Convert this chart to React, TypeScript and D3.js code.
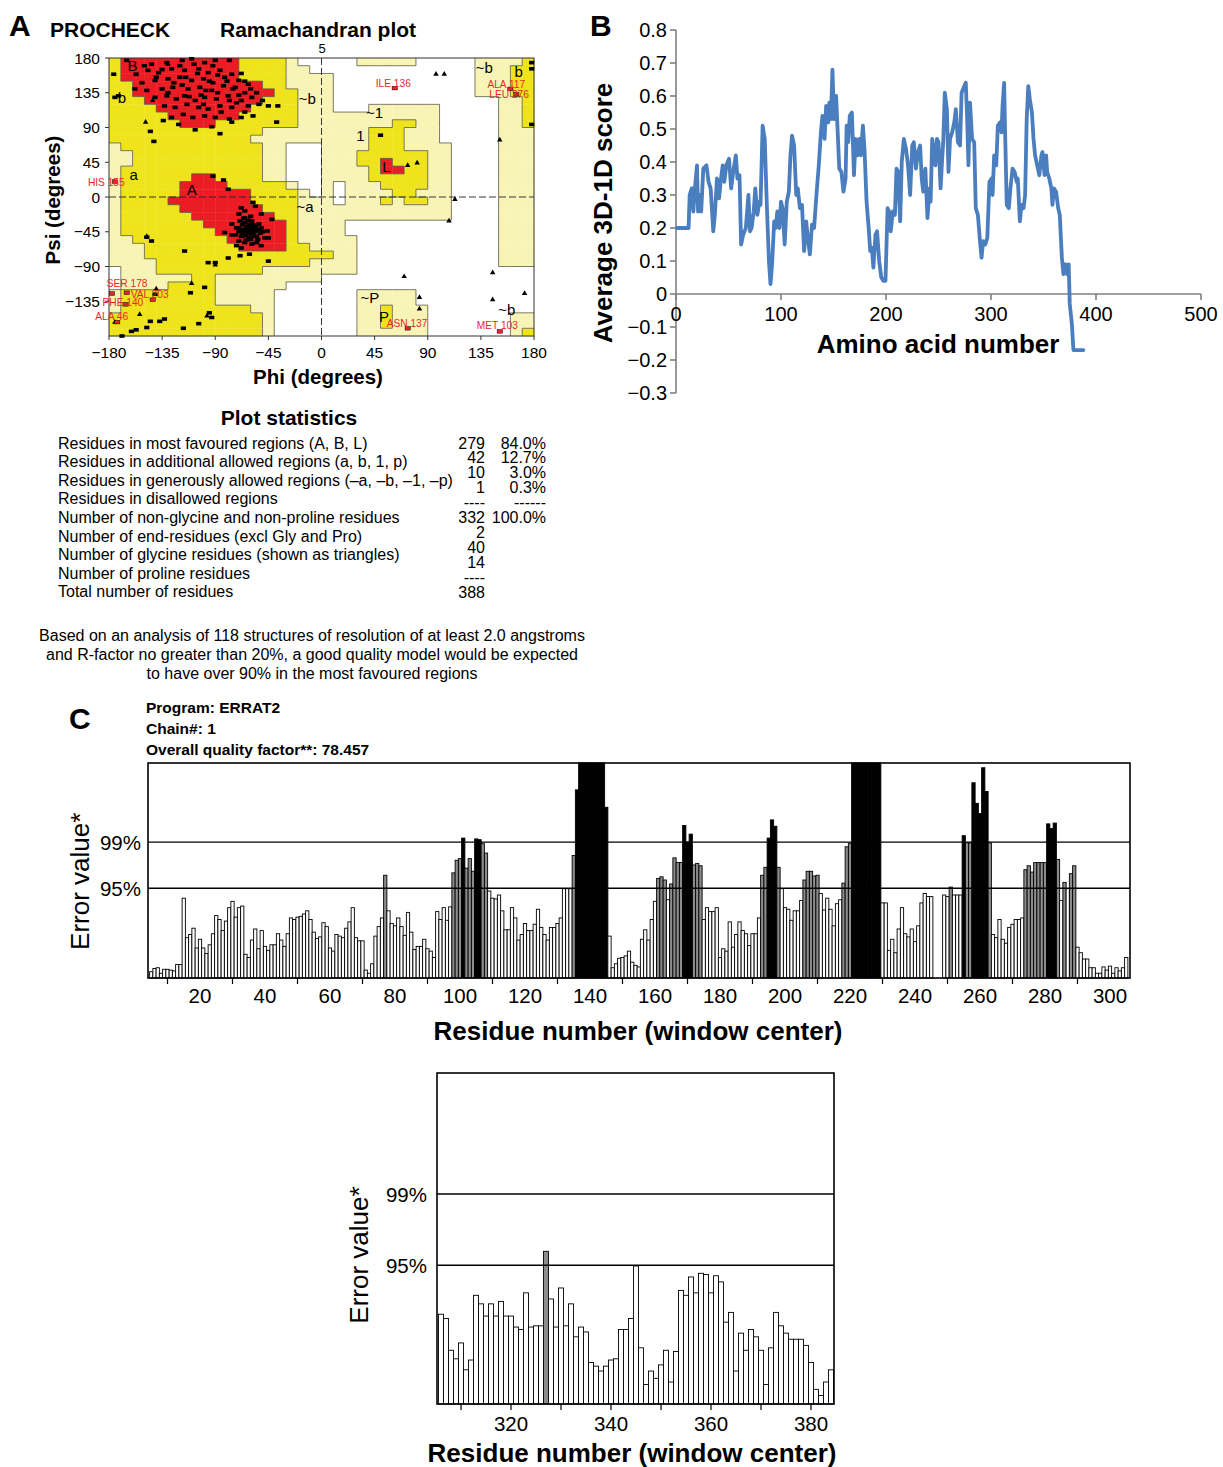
import React from 'react';
import * as d3 from 'd3';

const FONT = '"Liberation Sans", Arial, Helvetica, sans-serif';

// ---------------- Panel A: Ramachandran data ----------------
// 36 rows (psi 180 -> -180, 10 deg steps), 36 cols (phi -180 -> 180). RLE: R core, Y allowed, G generous, W disallowed
const ramaGrid: string[] = [
  'Y R10 Y4 G W2 | W3 G5 W5 G4 Y',
  'Y R10 Y4 G2 W | W13 G3 Y2',
  'Y R10 Y4 G3 | G W12 G3 Y2',
  'Y2 R11 Y2 G3 | G W12 G3 Y2',
  'Y2 R12 Y2 G2 | G W12 G3 Y2',
  'Y3 R10 Y3 G2 | G W14 G2 Y',
  'Y4 R8 Y4 G2 | G W3 G6 W5 G2 Y',
  'Y5 R6 Y5 G2 | G10 W5 G2 Y',
  'Y6 R3 Y7 G2 | G6 Y2 G2 W5 G2 Y',
  'Y13 G5 | G4 Y3 G3 W5 G3',
  'Y12 G6 | G4 Y3 G3 W5 G3',
  'G Y12 G2 W3 | G4 Y3 G4 W4 G3',
  'G2 Y11 G2 W3 | G3 Y6 G2 W4 G3',
  'G2 Y11 G2 W3 | G3 Y2 R Y3 G2 W4 G3',
  'G Y12 G2 W3 | G4 Y R2 Y2 G2 W4 G3',
  'G Y6 R2 Y4 G2 W3 | G4 Y5 G2 W4 G3',
  'G Y5 R4 Y5 G W2 | G W G3 Y4 G2 W4 G3',
  'G Y5 R6 Y4 G W | G W G4 Y2 G3 W4 G3',
  'G Y4 R7 Y4 G2 | G W G3 Y G Y2 G2 W4 G3',
  'G Y5 R7 Y3 G2 | G11 W4 G3',
  'G Y6 R7 Y2 G2 | G11 W4 G3',
  'G Y7 R7 Y G2 | G2 W13 G3',
  'G Y8 R6 Y G2 | G2 W13 G3',
  'G2 Y8 R5 Y G2 | G3 W12 G3',
  'G3 Y8 R4 Y2 G | G3 W12 G3',
  'G3 Y15 | Y G2 W12 G3',
  'G4 Y13 G | G3 W12 G3',
  'W G3 Y9 G5 | G3 W15',
  'W G6 Y2 G9 | W18',
  'W G4 Y4 G6 W3 | W18',
  'G Y8 G5 W4 | W3 G5 W10',
  'G Y8 G5 W4 | W3 G5 W10',
  'G Y11 G2 W4 | W3 G2 Y G3 W9',
  'Y13 G W4 | W3 G2 Y G3 W7 G2',
  'Y13 G W4 | W3 G2 Y G3 W7 G2',
  'Y13 G W4 | W3 G6 W7 G Y',
];

const residuePoints: [number, number][] = [
  [-165,177],[-144,172],[-131,174],[-118,177],[-110,179],[-99,174],[-90,177],[-78,177],
  [-157,159],[-147,164],[-138,161],[-127,166],[-116,164],[-104,166],[-96,161],[-86,164],[-76,159],
  [-152,148],[-141,151],[-130,153],[-120,155],[-110,151],[-100,153],[-92,148],[-82,155],[-70,151],[-62,146],
  [-158,140],[-148,138],[-135,140],[-126,142],[-113,140],[-103,142],[-93,138],[-83,144],[-73,142],[-65,135],
  [-141,129],[-131,131],[-123,127],[-116,131],[-107,125],[-99,129],[-89,127],[-79,131],[-68,125],[-59,129],
  [-53,120],[-45,118],[-37,118],[-133,118],[-124,116],[-114,120],[-104,116],[-96,114],[-86,118],[-76,116],
  [-65,110],[-58,105],[-127,103],[-117,107],[-109,103],[-99,105],[-90,103],[-78,101],[-68,103],
  [-134,99],[-121,94],[-107,87],[-93,91],[-86,82],[-76,97],[-38,97],[-145,85],[-142,72],[-172,131],
  [-176,159],[-175,129],[-150,170],[-120,170],[-105,160],[-95,150],[-88,135],[-75,140],[-68,160],
  [-140,155],[-125,148],[-112,130],[-100,120],[-85,110],[-72,122],[-60,140],[-130,135],[-118,145],
  [-108,172],[-92,170],[-80,150],[-65,150],[-55,135],[-50,125],[-78,125],[-135,165],[-98,138],
  [-115,155],[-102,132],[-88,158],[-70,132],[-62,118],
  [-70,-22],[-65,-27],[-59,-31],[-53,-35],[-76,-35],[-70,-40],[-65,-42],[-58,-44],[-51,-40],[-73,-49],
  [-68,-51],[-62,-53],[-55,-51],[-48,-53],[-65,-59],[-59,-61],[-70,-57],[-58,-7],[-65,-18],[-51,-22],
  [-68,-14],[-76,-49],[-72,-63],[-56,-12],[-42,-29],[-46,-44],[-45,-53],[-82,-46],[-61,-35],[-63,-46],
  [-69,-31],[-55,-59],[-51,-63],[-68,-66],[-61,-74],[-45,-83],[-69,-76],[-79,-79],[-90,-85],[-96,-85],
  [-116,-70],[-144,-57],[-148,-52],[-92,27],[-79,10],[-83,22],
  [-60,-40],[-63,-38],[-66,-45],[-58,-48],[-61,-43],[-64,-50],[-57,-40],[-67,-36],[-62,-30],[-55,-44],
  [-70,-45],[-60,-55],[-52,-47],[-65,-33],[-58,-36],[-68,-42],[-62,-47],[-56,-38],[-72,-40],[-64,-56],
  [-54,-55],[-60,-25],[-66,-28],[-50,-45],[-59,-51],[-63,-41],[-57,-45],[-61,-37],[-53,-42],[-67,-48],
  [-111,-124],[-99,-117],[-95,-150],[-93,-156],[-145,-161],[-161,-174],[-157,-172],[-148,-169],
  [-137,-161],[-133,-158],[-117,-170],[-104,-164],[-169,-180],[-141,-126],
  [50,80],[178,94],[178,174],[178,166],
];

const glycinePoints: [number, number][] = [
  [-149,97],[-130,172],[-143,125],[97,159],[104,159],[73,41],[81,44],[151,74],[113,-3],[108,-31],
  [70,-103],[145,-98],[172,-125],[83,-130],[145,-133],[83,-145],[-148,-51],[-90,-88],[-110,-112],
  [-140,-119],[-154,-152],[-175,-162],[-97,-154],
];

const flaggedNames = ['HIS 155','ILE 136','ALA 117','LEU 276','SER 178','VAL 203','PHE 140','ALA 46','ASN 137','MET 103'];
const flaggedPhi = [-175, 62, 160, 165, -165, -143, -166, -173, 73, 151];
const flaggedPsi = [20, 141, 140, 133, -124, -133, -139, -162, -170, -174];
const extraDisallowed: [number, number][] = [[-177.5,-125]];
// label offsets (px) relative to the point
const flaggedLabelOffset: [number, number][] = [
  [-27,4],[-19,-1],[-23,-1],[-27,4],[-20,-6],[-22,-2],[-23,2],[-22,-2],[-21,-1],[-23,-2],
];

const regionLabelText = ['B','b','~b','a','A','~a','~1','1','L','~P','P','~b','b','~b'];
const regionLabelPhi = [-160,-169,-12,-159,-110,-14,45,33,55,41,53,138,167,157];
const regionLabelPsi = [170,129,128,29,10,-12,110,79,40,-130,-155,168,163,-146];

const psiTicks = [180,135,90,45,0,-45,-90,-135];
const phiTicks = [-180,-135,-90,-45,0,45,90,135,180];

// ---------------- Plot statistics ----------------
const statLabels = [
  'Residues in most favoured regions (A, B, L)',
  'Residues in additional allowed regions (a, b, 1, p)',
  'Residues in generously allowed regions (\u2013a, \u2013b, \u20131, \u2013p)',
  'Residues in disallowed regions',
  'Number of non-glycine and non-proline residues',
  'Number of end-residues (excl Gly and Pro)',
  'Number of glycine residues (shown as triangles)',
  'Number of proline residues',
  'Total number of residues',
];
const statCounts = ['279','42','10','1','----','332','2','40','14','----','388'];
const statPercents = ['84.0%','12.7%','3.0%','0.3%','------','100.0%'];
const noteLines = [
  'Based on an analysis of 118 structures of resolution of at least 2.0 angstroms',
  'and R-factor no greater than 20%, a good quality model would be expected',
  'to have over 90% in the most favoured regions',
];

// ---------------- Panel B: Verify3D profile ----------------
const profileResidue = [
  1,12,13,15,16.5,18,20,21,23,24,26,29,31,33,35.5,37,39,41,42.5,44.5,46,48,50.5,52.5,54.5,57,58.5,60.5,62,64,66.5,69,70.5,72,74,75.5,77.5,79.5,80.5,82.5,84.5,86.5,88.5,90,91.5,93.5,95,96.5,98.5,100,101.5,103.5,105.5,107.5,109,110.5,112.5,114.5,116,118,120,122,124,125.5,127.5,129.5,131.5,134,136,138,139.5,141.5,143,145,146,147.5,149,150.5,152.5,154,155.5,157.5,159.5,161.5,162.5,164,165.5,167.5,169.5,171,172.5,174.5,176,178,179.5,181.5,183.5,185,186.5,188,190,191.5,193.5,195.5,
  197.5,199.5,201.5,203,204.5,206.5,208.5,210,211.5,213.5,215,217,219,221,223,225,226.5,228.5,230.5,232.5,234,235.5,237.5,239.5,241.5,242.5,244,245.5,247,248.5,250,252,253.5,254.5,256,258,259.5,261,263,265,266.5,268.5,270.5,272,274.5,276,277.5,278.5,280,282,284,285.5,287.5,289.5,291,292.5,294.5,296.5,298.5,300.5,301.5,303,305,306.5,308.5,310,311,312.5,313.5,315,317,318.5,320.5,322.5,324.5,325.5,327.5,329,331,332.5,334,335.5,337,339,340.5,342,344,346,348,349,351,352.5,353.5,355.5,357.5,358.5,360,362,364,365.5,367.5,369,371,372.5,374,375,377,378.5,388,
];
const profileScore = [
  0.20,0.20,0.30,0.32,0.25,0.32,0.39,0.25,0.30,0.25,0.38,0.39,0.34,0.32,0.19,0.24,0.35,0.29,0.34,0.39,0.34,0.39,0.41,0.32,0.37,0.42,0.35,0.36,0.15,0.18,0.20,0.30,0.19,0.20,0.25,0.32,0.24,0.28,0.27,0.51,0.47,0.27,0.10,0.03,0.09,0.22,0.20,0.25,0.20,0.28,0.26,0.15,0.28,0.31,0.42,0.48,0.45,0.30,0.32,0.26,0.27,0.13,0.22,0.17,0.12,0.21,0.20,0.31,0.39,0.49,0.54,0.47,0.57,0.52,0.58,0.53,0.68,0.53,0.60,0.49,0.38,0.37,0.31,0.35,0.51,0.46,0.54,0.55,0.36,0.47,0.42,0.47,0.42,0.51,0.44,0.28,0.20,0.13,0.14,0.08,0.18,0.19,0.10,0.05,
  0.04,0.04,0.26,0.25,0.19,0.25,0.24,0.38,0.37,0.22,0.40,0.47,0.44,0.39,0.30,0.45,0.46,0.38,0.43,0.45,0.35,0.31,0.38,0.23,0.32,0.28,0.47,0.43,0.39,0.47,0.46,0.32,0.41,0.46,0.61,0.56,0.37,0.47,0.49,0.52,0.56,0.46,0.45,0.61,0.63,0.64,0.51,0.39,0.58,0.47,0.46,0.26,0.24,0.16,0.11,0.16,0.15,0.17,0.34,0.35,0.30,0.42,0.39,0.51,0.52,0.49,0.57,0.64,0.48,0.27,0.26,0.32,0.38,0.37,0.34,0.35,0.22,0.27,0.26,0.30,0.53,0.63,0.59,0.55,0.47,0.42,0.39,0.36,0.42,0.43,0.36,0.42,0.37,0.35,0.32,0.27,0.32,0.31,0.26,0.24,0.11,0.06,0.09,0.06,0.09,-0.03,-0.09,-0.17,-0.17,
];
const scoreTicks = [0.8,0.7,0.6,0.5,0.4,0.3,0.2,0.1,0,-0.1,-0.2,-0.3];
const aminoTicks = [0,100,200,300,400,500];

// ---------------- Panel C: ERRAT2 ----------------
const erratTopFirstResidue = 5;
const erratTopValues = [
  0.8,1.2,1.3,0.6,1.1,1.1,1.0,0.9,1.7,1.7,
  10.1,5.1,5.5,6.3,3.8,4.9,3.8,3.1,4.2,5.6,
  7.9,7.4,6.0,7.2,8.9,9.7,7.7,8.9,9.1,3.0,
  2.6,4.8,6.2,3.7,6.0,4.0,3.5,4.2,4.2,5.6,
  4.8,4.0,5.6,7.6,7.4,7.7,7.8,8.1,8.5,7.4,
  5.8,5.0,5.2,7.0,6.5,3.8,3.4,5.5,5.3,5.1,
  6.3,7.1,8.9,5.1,4.7,4.7,1.0,0.6,1.8,5.3,
  6.5,7.6,13.0,8.5,6.9,6.6,7.6,6.5,5.4,8.3,
  5.8,3.6,4.0,4.0,4.9,3.7,3.4,2.6,8.4,7.4,
  8.9,7.3,9.0,13.3,14.9,15.1,17.7,13.9,15.1,13.5,
  17.6,17.5,17.0,15.8,11.0,10.1,10.0,10.5,8.5,6.1,
  6.1,8.9,7.6,4.8,5.5,6.9,6.0,6.0,6.8,8.7,
  6.4,5.5,4.8,6.4,6.4,6.9,7.6,11.3,11.3,11.3,
  15.5,23.8,30,30,30,30,30,30,30,30,
  21.6,5.3,1.3,1.8,2.5,2.6,2.8,3.4,2.0,1.6,
  1.4,4.9,6.1,4.8,7.4,9.7,12.6,12.8,12.4,9.9,
  11.9,15.2,14.6,14.6,19.3,17.2,18.2,14.3,14.5,14.2,
  7.4,8.9,8.4,8.4,8.9,2.6,3.7,3.4,7.1,3.9,
  5.5,7.1,6.0,5.6,4.1,5.6,5.6,7.6,13.0,14.0,
  17.7,20.0,19.2,14.0,11.3,8.9,8.7,7.3,8.5,8.5,
  9.8,12.4,13.5,13.5,12.9,13.0,10.7,8.6,10.1,8.7,
  6.6,9.4,9.9,12.0,16.6,17.0,30,30,30,30,
  30,30,30,30,30,9.5,9.5,3.5,4.9,3.2,
  6.2,8.9,5.6,5.2,6.2,4.6,6.6,9.5,10.7,10.3,
  10.3,0,0,0,10.5,10.3,11.5,10.5,10.5,10.5,
  18.0,17.1,17.1,24.7,22.1,20.8,26.6,23.6,17.1,5.5,
  5.1,7.4,4.9,4.4,6.4,6.8,7.4,7.4,7.6,13.7,
  14.2,13.4,14.6,14.6,14.6,14.6,19.5,18.9,19.6,15.0,
  9.8,12.1,11.3,13.2,14.2,3.9,3.2,2.4,2.4,1.3,
  1.3,0.6,0.6,1.4,1.0,1.5,0.6,1.3,0.9,1.3,2.6,
];
const erratBottomFirstResidue = 306;
const erratBottomValues = [
  7.35,7.0,4.4,3.7,5.0,2.8,3.6,8.9,8.2,7.2,
  8.2,7.2,8.4,7.2,7.2,6.3,6.1,9.1,6.3,6.4,
  6.4,12.5,8.6,6.3,9.5,6.4,8.2,5.5,6.3,5.9,
  3.4,3.1,2.7,3.1,3.6,3.7,6.1,6.1,7.0,11.3,
  4.6,1.6,2.7,2.1,3.2,4.4,1.8,4.3,9.3,8.9,
  10.4,9.1,10.7,10.6,9.1,10.5,10.0,6.7,7.5,2.7,
  5.8,4.4,6.1,5.5,4.4,1.6,4.6,7.5,6.4,5.8,
  5.3,5.3,5.3,4.8,3.4,1.2,0.7,1.8,2.8,
];
const erratLimit95 = 11.36;
const erratLimit99 = 17.19;
const erratTopLabels = [20,40,60,80,100,120,140,160,180,200,220,240,260,280,300];
const erratTopMinor = [10,30,50,70,90,110,130,150,170,190,210,230,250,270,290];
const erratBottomLabels = [320,340,360,380];
const erratBottomMinor = [310,320,330,340,350,360,370,380];
const erratHeader = ['Program: ERRAT2','Chain#: 1','Overall quality factor**: 78.457'];

const REGION_FILL: Record<string,string> = { R: '#ec1c24', Y: '#efe41c', G: '#f8f4b6' };

function parseRow(s: string): string[] {
  const out: string[] = [];
  s.split(/\s+/).forEach(tok => {
    if (!tok || tok === '|') return;
    const c = tok[0];
    const n = tok.length > 1 ? parseInt(tok.slice(1), 10) : 1;
    for (let k = 0; k < n; k++) out.push(c);
  });
  while (out.length < 36) out.push('W');
  return out.slice(0, 36);
}

const fmtSigned = (v: number) => (v < 0 ? '\u2212' + Math.abs(v) : String(v));

function PanelA() {
  const x = d3.scaleLinear().domain([-180, 180]).range([109, 534]);
  const y = d3.scaleLinear().domain([-180, 180]).range([336, 58]);
  const grid = ramaGrid.map(parseRow);
  const cw = x(10) - x(0);
  const ch = y(0) - y(10);
  const cells: React.ReactNode[] = [];
  const edges: string[] = [];
  grid.forEach((row, j) => {
    row.forEach((c, i) => {
      const phi = -180 + i * 10;
      const psi = 180 - j * 10;
      if (c !== 'W') {
        cells.push(<rect key={`c${j}_${i}`} x={x(phi)} y={y(psi)} width={cw + 0.4} height={ch + 0.4} fill={REGION_FILL[c]} />);
      }
      if (i < 35 && row[i + 1] !== c) edges.push(`M${x(phi + 10)},${y(psi)}V${y(psi - 10)}`);
      if (j < 35 && grid[j + 1][i] !== c) edges.push(`M${x(phi)},${y(psi - 10)}H${x(phi + 10)}`);
    });
  });
  const tri = d3.symbol().type(d3.symbolTriangle).size(13)();
  return (
    <g>
      <text x={9} y={36} fontSize={30} fontWeight="bold">A</text>
      <text x={50} y={37} fontSize={21} fontWeight="bold">PROCHECK</text>
      <text x={220} y={37} fontSize={21} fontWeight="bold">Ramachandran plot</text>
      <text x={322} y={53} fontSize={13} textAnchor="middle">5</text>
      <g>{cells}</g>
      <path d={edges.join('')} stroke="#5a5a4a" strokeWidth={0.8} fill="none" />
      <line x1={x(0)} x2={x(0)} y1={y(180)} y2={y(-180)} stroke="#222" strokeWidth={0.9} strokeDasharray="7,3" />
      <line x1={x(-180)} x2={x(180)} y1={y(0)} y2={y(0)} stroke="#222" strokeWidth={0.9} strokeDasharray="7,3" />
      <rect x={x(-180)} y={y(180)} width={x(180) - x(-180)} height={y(-180) - y(180)} fill="none" stroke="#333" strokeWidth={1} />
      {regionLabelText.map((t, i) => (
        <text key={`rl${i}`} x={x(regionLabelPhi[i])} y={y(regionLabelPsi[i])} fontSize={15} textAnchor="middle" dominantBaseline="central">{t}</text>
      ))}
      {residuePoints.map((p, i) => (
        <rect key={`p${i}`} x={x(p[0]) - 2.6} y={y(p[1]) - 1.8} width={5.2} height={3.6} fill="#000" />
      ))}
      {glycinePoints.map((p, i) => (
        <path key={`g${i}`} d={tri} transform={`translate(${x(p[0])},${y(p[1])})`} fill="#000" />
      ))}
      {extraDisallowed.map((p, i) => (
        <rect key={`e${i}`} x={x(p[0]) - 2.6} y={y(p[1]) - 1.8} width={5.2} height={3.6} fill="#e8262a" stroke="#000" strokeWidth={0.5} />
      ))}
      {flaggedNames.map((n, i) => {
        const px = x(flaggedPhi[i]);
        const py = y(flaggedPsi[i]);
        const o = flaggedLabelOffset[i];
        return (
          <g key={`f${i}`}>
            <rect x={px - 2.6} y={py - 1.8} width={5.2} height={3.6} fill="#e8262a" stroke="#000" strokeWidth={0.5} />
            <text x={px + o[0]} y={py + o[1]} fontSize={10.2} fill="#e8262a">{n}</text>
          </g>
        );
      })}
      {psiTicks.map(t => (
        <g key={`pt${t}`}>
          <line x1={x(-180) - 4} x2={x(-180)} y1={y(t)} y2={y(t)} stroke="#333" />
          <text x={100} y={y(t)} fontSize={15.5} textAnchor="end" dominantBaseline="central">{fmtSigned(t)}</text>
        </g>
      ))}
      {phiTicks.map(t => (
        <g key={`ft${t}`}>
          <line x1={x(t)} x2={x(t)} y1={y(-180)} y2={y(-180) + 4} stroke="#333" />
          <text x={x(t)} y={358} fontSize={15.5} textAnchor="middle">{fmtSigned(t)}</text>
        </g>
      ))}
      <text transform="translate(60,200) rotate(-90)" fontSize={20.5} fontWeight="bold" textAnchor="middle">Psi (degrees)</text>
      <text x={318} y={384} fontSize={20.5} fontWeight="bold" textAnchor="middle">Phi (degrees)</text>
    </g>
  );
}

function Stats() {
  return (
    <g fontSize={16}>
      <text x={289} y={425} fontSize={21} fontWeight="bold" textAnchor="middle">Plot statistics</text>
      {statLabels.map((s, i) => (
        <text key={`sl${i}`} x={58} y={443 + i * 18.6} dominantBaseline="central">{s}</text>
      ))}
      {statCounts.map((s, i) => (
        <text key={`sc${i}`} x={485} y={443 + i * 14.9} textAnchor="end" dominantBaseline="central">{s}</text>
      ))}
      {statPercents.map((s, i) => (
        <text key={`sp${i}`} x={546} y={443 + i * 14.9} textAnchor="end" dominantBaseline="central">{s}</text>
      ))}
      {noteLines.map((s, i) => (
        <text key={`nl${i}`} x={312} y={635 + i * 19} textAnchor="middle" dominantBaseline="central">{s}</text>
      ))}
    </g>
  );
}

function PanelB() {
  const x = d3.scaleLinear().domain([0, 500]).range([676, 1201]);
  const y = d3.scaleLinear().domain([-0.3, 0.8]).range([393, 30]);
  const data = profileResidue.map((r, i) => [r, profileScore[i]] as [number, number]);
  const line = d3.line<[number, number]>().x(d => x(d[0])).y(d => y(d[1])).curve(d3.curveLinear);
  return (
    <g>
      <text x={590} y={36} fontSize={30} fontWeight="bold">B</text>
      <line x1={x(0)} x2={x(0)} y1={y(0.8)} y2={y(-0.3)} stroke="#808080" strokeWidth={1.6} />
      <line x1={x(0)} x2={x(500)} y1={y(0)} y2={y(0)} stroke="#808080" strokeWidth={1.6} />
      {scoreTicks.map(t => (
        <g key={`st${t}`}>
          <line x1={x(0) - 6} x2={x(0)} y1={y(t)} y2={y(t)} stroke="#808080" strokeWidth={1.6} />
          <text x={667} y={y(t)} fontSize={20} textAnchor="end" dominantBaseline="central">{t === 0 ? '0' : (t < 0 ? '\u2212' : '') + Math.abs(t).toFixed(1)}</text>
        </g>
      ))}
      {aminoTicks.map(t => (
        <g key={`at${t}`}>
          <line x1={x(t)} x2={x(t)} y1={y(0)} y2={y(0) + 6} stroke="#808080" strokeWidth={1.6} />
          <text x={x(t)} y={314} fontSize={20} textAnchor="middle" dominantBaseline="central">{t}</text>
        </g>
      ))}
      <path d={line(data) || ''} fill="none" stroke="#4a7ebf" strokeWidth={3.8} strokeLinejoin="round" strokeLinecap="round" />
      <text transform="translate(612,213) rotate(-90)" fontSize={26} fontWeight="bold" textAnchor="middle">Average 3D-1D score</text>
      <text x={938} y={353} fontSize={26} fontWeight="bold" textAnchor="middle">Amino acid number</text>
    </g>
  );
}

function ErratChart(props: {
  first: number; values: number[]; domainX: [number, number]; rangeX: [number, number];
  frame: [number, number, number, number]; yMax: number; labels: number[]; minor: number[];
  ylabelX: number; labelY: number; titleY: number; titleX: number; pctX: number;
}) {
  const { first, values, domainX, rangeX, frame, yMax, labels, minor, ylabelX, labelY, titleY, titleX, pctX } = props;
  const [fx0, fy0, fx1, fy1] = frame;
  const x = d3.scaleLinear().domain(domainX).range(rangeX);
  const y = d3.scaleLinear().domain([0, yMax]).range([fy1, fy0]);
  const color = (v: number) => (v > erratLimit99 ? '#000' : v > erratLimit95 ? '#8c8c8c' : '#fff');
  return (
    <g>
      {values.map((v, i) => {
        const r = first + i;
        if (v <= 0) return null;
        const vv = Math.min(v, yMax);
        const x0 = x(r - 0.5);
        const x1 = x(r + 0.5);
        return <rect key={`b${r}`} x={x0} y={y(vv)} width={x1 - x0} height={fy1 - y(vv)} fill={color(v)} stroke="#000" strokeWidth={0.9} />;
      })}
      <line x1={fx0} x2={fx1} y1={y(erratLimit95)} y2={y(erratLimit95)} stroke="#000" strokeWidth={1.4} />
      <line x1={fx0} x2={fx1} y1={y(erratLimit99)} y2={y(erratLimit99)} stroke="#000" strokeWidth={1.4} />
      <rect x={fx0} y={fy0} width={fx1 - fx0} height={fy1 - fy0} fill="none" stroke="#000" strokeWidth={1.6} />
      <text x={pctX} y={y(erratLimit99)} fontSize={20.5} textAnchor="end" dominantBaseline="central">99%</text>
      <text x={pctX} y={y(erratLimit95)} fontSize={20.5} textAnchor="end" dominantBaseline="central">95%</text>
      {minor.map(t => (
        <line key={`m${t}`} x1={x(t)} x2={x(t)} y1={fy1} y2={fy1 + 6} stroke="#000" strokeWidth={1.2} />
      ))}
      {labels.map(t => (
        <text key={`l${t}`} x={x(t)} y={labelY} fontSize={20.5} textAnchor="middle" dominantBaseline="central">{t}</text>
      ))}
      <text transform={`translate(${ylabelX},${(fy0 + fy1) / 2 + (fy1 - fy0) * 0.05}) rotate(-90)`} fontSize={26} textAnchor="middle">Error value*</text>
      <text x={titleX} y={titleY} fontSize={26} fontWeight="bold" textAnchor="middle">Residue number (window center)</text>
    </g>
  );
}

function PanelC() {
  return (
    <g>
      <text x={69} y={729} fontSize={30} fontWeight="bold">C</text>
      {erratHeader.map((s, i) => (
        <text key={`h${i}`} x={146} y={713 + i * 21} fontSize={15.5} fontWeight="bold">{s}</text>
      ))}
      <ErratChart first={erratTopFirstResidue} values={erratTopValues} domainX={[0, 300]} rangeX={[135, 1110]}
        frame={[148, 763, 1130, 978]} yMax={27.2} labels={erratTopLabels} minor={erratTopMinor}
        ylabelX={89} labelY={995} titleY={1040} titleX={638} pctX={141} />
      <ErratChart first={erratBottomFirstResidue} values={erratBottomValues} domainX={[320, 380]} rangeX={[511, 811]}
        frame={[437, 1073, 834, 1404]} yMax={27.1} labels={erratBottomLabels} minor={erratBottomMinor}
        ylabelX={368} labelY={1423} titleY={1462} titleX={632} pctX={427} />
    </g>
  );
}

export default function App() {
  return (
    <svg width={1223} height={1467} viewBox="0 0 1223 1467" fontFamily={FONT}
      style={{ position: 'absolute', left: 0, top: 0, background: '#fff' }}>
      <rect width={1223} height={1467} fill="#fff" />
      <PanelA />
      <Stats />
      <PanelB />
      <PanelC />
    </svg>
  );
}
